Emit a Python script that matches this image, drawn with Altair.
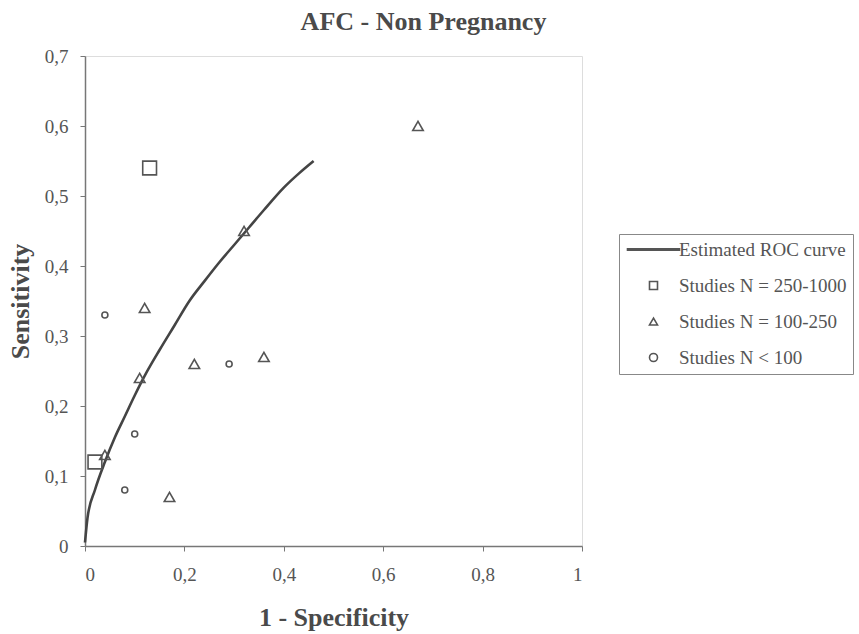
import altair as alt
import pandas as pd

# ---- data ----
series_labels = ["Estimated ROC curve", "Studies N = 250-1000", "Studies N = 100-250", "Studies N < 100"]

roc_x = [0.0, 0.005, 0.02, 0.04, 0.06, 0.08, 0.10, 0.12, 0.15, 0.18, 0.21, 0.24, 0.27, 0.30, 0.33, 0.36, 0.40, 0.43, 0.46]
roc_y = [0.005, 0.04, 0.08, 0.12, 0.155, 0.185, 0.215, 0.243, 0.28, 0.315, 0.35, 0.378, 0.405, 0.43, 0.455, 0.48, 0.512, 0.532, 0.55]

sq_x = [0.13, 0.02]
sq_y = [0.54, 0.12]

tri_x = [0.67, 0.32, 0.12, 0.11, 0.22, 0.36, 0.04, 0.17]
tri_y = [0.60, 0.45, 0.34, 0.24, 0.26, 0.27, 0.13, 0.07]

dot_x = [0.04, 0.29, 0.10, 0.08]
dot_y = [0.33, 0.26, 0.16, 0.08]

x_ticks = [0, 0.2, 0.4, 0.6, 0.8, 1]
y_ticks = [0, 0.1, 0.2, 0.3, 0.4, 0.5, 0.6, 0.7]

# ---- tables ----
rows = []
for xs_, ys_, lab in [(sq_x, sq_y, series_labels[1]), (tri_x, tri_y, series_labels[2]), (dot_x, dot_y, series_labels[3])]:
    for a, b in zip(xs_, ys_):
        rows.append({"fpr": a, "sens": b, "group": lab})
pts = pd.DataFrame(rows)
roc = pd.DataFrame({"fpr": roc_x, "sens": roc_y})

FONT = "Liberation Serif"
TXT = "#4a4a4a"
AX = "#777777"

label_expr = "datum.value == 0 ? '0' : datum.value == 1 ? '1' : replace(format(datum.value, '.1f'), '.', ',')"

xs = alt.Scale(domain=[0, 1], nice=False)
ys = alt.Scale(domain=[0, 0.7], nice=False)

x_axis = alt.Axis(
    title="1 - Specificity", values=x_ticks, labelExpr=label_expr, grid=False,
    tickSize=5, labelPadding=14, labelFont=FONT, labelFontSize=19, labelColor="#555",
    domainColor=AX, tickColor=AX, domainWidth=1.5,
    titleFont=FONT, titleFontSize=26, titleFontWeight="bold", titleColor=TXT,
    titleBaseline="alphabetic", titleY=79,
)
y_axis = alt.Axis(
    title="Sensitivity", values=y_ticks, labelExpr=label_expr, grid=False,
    tickSize=5, labelPadding=12, labelFont=FONT, labelFontSize=19, labelColor="#555",
    domainColor=AX, tickColor=AX, domainWidth=1.5,
    titleFont=FONT, titleFontSize=26, titleFontWeight="bold", titleColor=TXT,
    titleBaseline="alphabetic", titleAngle=270, titleX=-57, titleY=245,
)

line = alt.Chart(roc).mark_line(color="#444444", strokeWidth=2.6, interpolate="monotone").encode(
    x=alt.X("fpr:Q", scale=xs, axis=x_axis),
    y=alt.Y("sens:Q", scale=ys, axis=y_axis),
)

# thin bar drawn as a symbol, to stand for the line in the legend
line_path = "M-6.5,-0.15H6.5V0.15H-6.5Z"
legend = alt.Legend(
    title=None, orient="none", legendX=534, legendY=178,
    padding=6, strokeColor="#888", fillColor="white",
    symbolSize=64, symbolStrokeColor="#555", symbolStrokeWidth=1.6, symbolOffset=19,
    labelOffset=16, labelFont=FONT, labelFontSize=19, labelColor="#555",
    labelLimit=400, rowPadding=16,
)

# size scale uses the labels in reverse order so its (hidden) legend is kept apart from the shape legend
size_domain = series_labels[::-1]
size_range = [36, 110, 190, 10]

points = alt.Chart(pts).mark_point(filled=False, color="#555555", opacity=1, strokeWidth=1.6).encode(
    x=alt.X("fpr:Q", scale=xs),
    y=alt.Y("sens:Q", scale=ys),
    shape=alt.Shape("group:N", sort=series_labels,
                    scale=alt.Scale(domain=series_labels,
                                    range=[line_path, "square", "triangle-up", "circle"]),
                    legend=legend),
    size=alt.Size("group:N", sort=size_domain,
                  scale=alt.Scale(type="ordinal", domain=size_domain, range=size_range), legend=None),
)

chart = alt.layer(line, points).properties(
    width=497, height=490,
    autosize=alt.AutoSizeParams(type="none"),
    padding={"left": 85, "top": 56, "right": 277, "bottom": 88},
    title=alt.TitleParams("AFC - Non Pregnancy", font=FONT, fontSize=26, fontWeight="bold",
                          color=TXT, anchor="middle", dx=90, offset=-9, baseline="alphabetic"),
).configure_view(stroke=AX, strokeWidth=1.5).configure(background="white")

chart.save("out.html", embed_options={"renderer": "svg", "actions": False})
